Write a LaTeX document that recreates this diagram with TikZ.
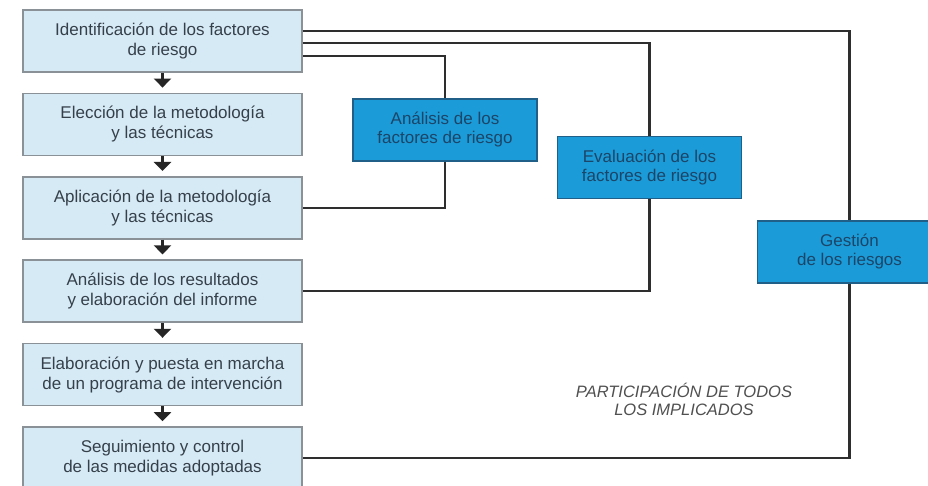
\documentclass[tikz,border=0pt]{standalone}
\usepackage{fontspec}
\setmainfont{Liberation Sans}
\usetikzlibrary{arrows.meta}
\definecolor{lightbox}{HTML}{D6EAF6}
\definecolor{lightborder}{HTML}{8A9197}
\definecolor{lighttext}{HTML}{36404A}
\definecolor{bluebox}{HTML}{1B9BD7}
\definecolor{blueborder}{HTML}{1F5F88}
\definecolor{bluetext}{HTML}{1B4569}
\definecolor{linecol}{HTML}{2E2E2E}
\definecolor{notetext}{HTML}{505050}
\tikzset{
  x=1pt, y=-1pt,
  stepbox/.style={draw=lightborder, line width=1.6pt, fill=lightbox, text=lighttext,
    minimum width=279pt, minimum height=62pt, align=center, inner sep=0pt,
    font=\fontsize{17}{20}\selectfont},
  phasebox/.style={draw=blueborder, line width=1.4pt, fill=bluebox, text=bluetext,
    minimum width=184pt, minimum height=62pt, align=center, inner sep=0pt,
    font=\fontsize{17}{19}\selectfont},
  flowarrow/.style={draw=black!85, line width=2.4pt, -{Triangle[width=17pt,length=9pt]}, shorten >=5pt},
  link/.style={draw=linecol, line width=2.5pt},
  note/.style={text=notetext, align=center, font=\fontsize{16.5}{18}\selectfont\itshape}
}
\begin{document}
\begin{tikzpicture}
\useasboundingbox (0,0) rectangle (928,486);
\clip (0,0) rectangle (928,486);
\fill[white] (0,0) rectangle (928,486);

\node[stepbox] (b1) at (162.5,41) {Identificación de los factores\\de riesgo};
\node[stepbox] (b2) at (162.5,124.4) {Elección de la metodología\\y las técnicas};
\node[stepbox] (b3) at (162.5,207.8) {Aplicación de la metodología\\y las técnicas};
\node[stepbox] (b4) at (162.5,291.2) {Análisis de los resultados\\y elaboración del informe};
\node[stepbox] (b5) at (162.5,374.6) {Elaboración y puesta en marcha\\de un programa de intervención};
\node[stepbox] (b6) at (162.5,458) {Seguimiento y control\\de las medidas adoptadas};

\node[phasebox] (an) at (445,130) {Análisis de los\\factores de riesgo};
\node[phasebox] (ev) at (649.5,167.5) {Evaluación de los\\factores de riesgo};
\node[phasebox] (ge) at (849.5,252) {Gestión\\de los riesgos};

\node[note] (nt) at (684,399) {PARTICIPACIÓN DE TODOS\\LOS IMPLICADOS};

\foreach \a/\b in {b1/b2,b2/b3,b3/b4,b4/b5,b5/b6}
  \draw[flowarrow] (\a.south) -- (\b.north);

\draw[link] (b1.east) ++(0,-10) -| (ge.north);
\draw[link] (b1.east) ++(0,2) -| (ev.north);
\draw[link] (b1.east) ++(0,15) -| (an.north);
\draw[link] (an.south) |- (b3.east);
\draw[link] (ev.south) |- (b4.east);
\draw[link] (ge.south) |- (b6.east);
\end{tikzpicture}
\end{document}
